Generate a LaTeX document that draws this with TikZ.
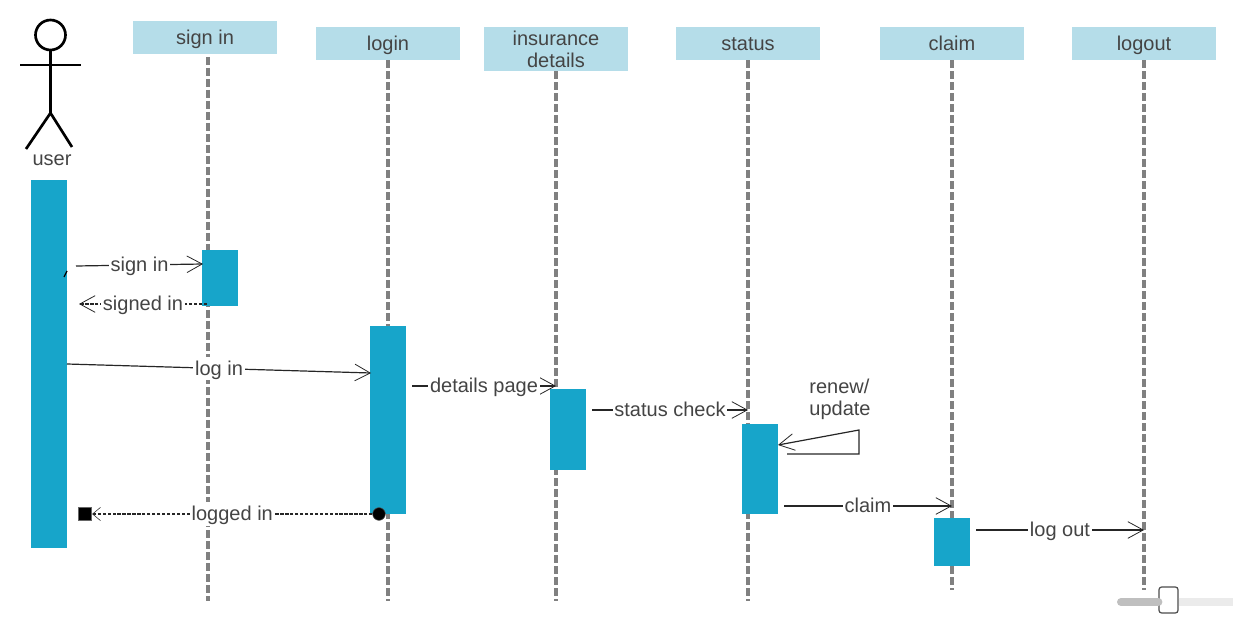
\documentclass[tikz,border=0pt]{standalone}
\usepackage{fontspec}
\usepackage{xcolor}
\setmainfont{Liberation Sans}
\usetikzlibrary{positioning, arrows.meta}

\definecolor{headcolor}{HTML}{B5DDE9}
\definecolor{barcolor}{HTML}{17A5CA}
\definecolor{textcolor}{HTML}{444444}
\definecolor{lifecolor}{HTML}{808080}

\tikzset{
    oneline/.style={text height=12.5pt, text depth=2.5pt},
    header/.style={fill=headcolor, text=textcolor, inner sep=0pt, minimum width=108pt, minimum height=24.75pt, align=center, font=\fontsize{15}{16.5}\selectfont},
    bar/.style={fill=barcolor, inner sep=0pt, minimum width=27pt},
    lifeline/.style={draw=lifecolor, line width=2.6pt, dash pattern=on 6pt off 2.25pt},
    stick/.style={draw=black, line width=2pt},
    msg/.style={draw=black!85, line width=0.9pt, -{Straight Barb[length=11.5pt, width=12.5pt, line width=0.6pt]}},
    reply/.style={msg, line width=0.8pt, dash pattern=on 2.5pt off 1.2pt},
    lbl/.style={oneline, fill=white, text=textcolor, inner sep=1.2pt, font=\fontsize{15}{16.5}\selectfont}
}

\begin{document}
\begin{tikzpicture}[x=0.75pt, y=-0.75pt]
    \useasboundingbox (0, 0) rectangle (1233, 631);

    % lifelines
    \node[header, oneline] (signin) at (205, 37.5) {sign in};
    \node[header, oneline] (login) at (388, 43.5) {login};
    \node[header, minimum height=33pt] (details) at (556, 49) {insurance\\details};
    \node[header, oneline] (status) at (748, 43.5) {status};
    \node[header, oneline] (claim) at (952, 43.5) {claim};
    \node[header, oneline] (logout) at (1144, 43.5) {logout};

    \coordinate (signintop) at (208, 57);
    \coordinate (signinend) at (208, 601);
    \coordinate (loginend) at (388, 601);
    \coordinate (detailsend) at (556, 601);
    \coordinate (statusend) at (748, 601);
    \coordinate (claimend) at (952, 590);
    \coordinate (logoutend) at (1144, 590);

    \draw[lifeline] (signintop) -- (signinend);
    \draw[lifeline] (login.south) -- (loginend);
    \draw[lifeline] (details.south) -- (detailsend);
    \draw[lifeline] (status.south) -- (statusend);
    \draw[lifeline] (claim.south) -- (claimend);
    \draw[lifeline] (logout.south) -- (logoutend);

    % user figure
    \node[circle, stick, inner sep=0pt, minimum size=22.5pt] (head) at (50.5, 35) {};
    \coordinate (hip) at (50.5, 113);
    \coordinate (armleft) at (20, 65);
    \coordinate (armright) at (81, 65);
    \coordinate (legleft) at (26, 149);
    \coordinate (legright) at (72, 147);
    \draw[stick] (head) -- (hip);
    \draw[stick] (armleft) -- (armright);
    \draw[stick] (legleft) -- (hip) -- (legright);
    \node[text=textcolor, inner sep=0pt, font=\fontsize{15}{16.5}\selectfont] (user) at (52, 160) {user};

    % activation bars
    \node[bar, minimum height=276pt] (userbar) at (49, 364) {};
    \node[bar, minimum height=42pt] (signinbar) at (220, 278) {};
    \node[bar, minimum height=141pt] (loginbar) at (388, 420) {};
    \node[bar, minimum height=60.75pt] (detailsbar) at (568, 429.5) {};
    \node[bar, minimum height=67.5pt] (statusbar) at (760, 469) {};
    \node[bar, minimum height=36pt] (claimbar) at (952, 542) {};

    % message ends
    \coordinate (a1) at (76, 266);
    \coordinate (a2) at (203, 264);
    \coordinate (b1) at (207, 304);
    \coordinate (b2) at (79, 304);
    \coordinate (c1) at (67, 364);
    \coordinate (c2) at (371, 373);
    \coordinate (d1) at (412, 386);
    \coordinate (d2) at (556, 386);
    \coordinate (e1) at (592, 410);
    \coordinate (e2) at (748, 410);
    \coordinate (f1) at (787, 454);
    \coordinate (f2) at (859, 454);
    \coordinate (f3) at (859, 430);
    \coordinate (f4) at (778, 445);
    \coordinate (g1) at (784, 506);
    \coordinate (g2) at (952, 506);
    \coordinate (h1) at (976, 530);
    \coordinate (h2) at (1144, 530);
    \coordinate (tick1) at (64, 277);
    \coordinate (tick2) at (67, 271);

    \node[circle, fill=black, draw=black!70, inner sep=0pt, minimum size=9.5pt] (loggedfrom) at (379, 514) {};
    \node[rectangle, fill=black, draw=black!60, line width=0.7pt, inner sep=0pt, minimum size=10pt] (loggedto) at (85, 514) {};

    % messages
    \draw[line width=0.9pt] (tick1) -- (tick2);
    \draw[msg] (a1) -- node[lbl] {sign in} (a2);
    \draw[reply] (b1) -- node[lbl] {signed in} (b2);
    \draw[msg] (c1) -- node[lbl] {log in} (c2);
    \draw[msg] (d1) -- node[lbl] {details page} (d2);
    \draw[msg] (e1) -- node[lbl] {status check} (e2);
    \draw[msg] (f1) -- (f2) -- (f3) -- (f4);
    \draw[msg] (g1) -- node[lbl] {claim} (g2);
    \draw[msg] (h1) -- node[lbl] {log out} (h2);
    \draw[reply, -{Straight Barb[length=6pt, width=10pt, line width=0.4pt]}] (loggedfrom) -- node[lbl] {logged in} (loggedto);
    \node[text=textcolor, inner sep=0pt, align=left, font=\fontsize{15}{16.5}\selectfont] (renew) at (840, 399.5) {renew/\\update};

    % slider
    \coordinate (trackleft) at (1121, 602);
    \coordinate (trackright) at (1233, 602);
    \node[rectangle, draw=black!70, fill=white, rounded corners=2pt, line width=0.9pt, inner sep=0pt, minimum width=14.25pt, minimum height=19.5pt] (thumb) at (1168.5, 600) {};
    \draw[line width=6pt, draw=black!8] (thumb.east |- trackright) -- (trackright);
    \draw[line width=6pt, draw=black!25, line cap=round] (trackleft) -- (thumb.west |- trackleft);
\end{tikzpicture}
\end{document}
